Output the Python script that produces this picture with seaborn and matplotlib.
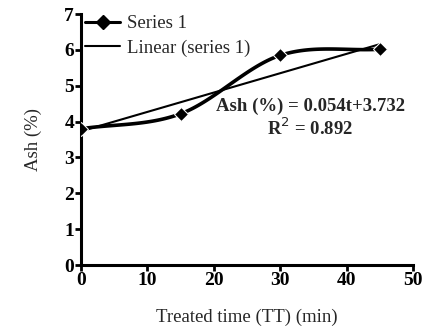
import numpy as np
import pandas as pd
import matplotlib
matplotlib.use("Agg")
import matplotlib.pyplot as plt
import seaborn as sns

# Data
time_min = [0, 15, 30, 45]
ash_pct = [3.8, 4.22, 5.85, 6.02]
fit_slope = 0.054
fit_intercept = 3.732
r_squared = 0.892
x_ticks = [0, 10, 20, 30, 40, 50]
y_ticks = [0, 1, 2, 3, 4, 5, 6, 7]

sns.set_style("ticks")
plt.rcParams['font.family'] = ['Liberation Serif', 'DejaVu Serif']

fig = plt.figure(figsize=(4.22, 3.28), dpi=100)
ax = fig.add_axes([0.192, 0.192, 0.787, 0.765])

# Smoothed curve (Catmull-Rom like Excel smoothing)
def smooth(xs, ys, n=40):
    P = np.column_stack([xs, ys]).astype(float)
    P = np.vstack([P[0] - (P[1] - P[0]), P, P[-1] + (P[-1] - P[-2])])
    out = []
    for i in range(1, len(P) - 2):
        p0, p1, p2, p3 = P[i - 1], P[i], P[i + 1], P[i + 2]
        c1 = p1 + (p2 - p0) / 6.0
        c2 = p2 - (p3 - p1) / 6.0
        t = np.linspace(0, 1, n)[:, None]
        seg = ((1 - t) ** 3) * p1 + 3 * ((1 - t) ** 2) * t * c1 + 3 * (1 - t) * t ** 2 * c2 + t ** 3 * p2
        out.append(seg)
    out = np.vstack(out)
    return out[:, 0], out[:, 1]

sx, sy = smooth(time_min, ash_pct)
ax.plot(sx, sy, color='black', lw=2.6, zorder=3, solid_capstyle='round')

df = pd.DataFrame({"t": time_min, "ash": ash_pct})
sns.lineplot(data=df, x="t", y="ash", ax=ax, color='black', marker='D', markersize=7,
             linestyle='none', zorder=4, legend=False)

# Linear trend
lt = np.array([time_min[0], time_min[-1]])
ax.plot(lt, fit_slope * lt + fit_intercept, color='black', lw=1.5, zorder=2)

# Legend
from matplotlib.lines import Line2D
handles = [Line2D([], [], color='black', lw=2.2, marker='D', markersize=7),
           Line2D([], [], color='black', lw=1.5)]
leg = ax.legend(handles, ['Series 1', 'Linear (series 1)'], loc='upper left',
                bbox_to_anchor=(-0.01, 1.025), frameon=False, fontsize=13.5,
                handlelength=1.85, handletextpad=0.4, labelspacing=0.38, borderaxespad=0)

ax.text(0.69, 0.632, 'Ash (%) = 0.054t+3.732', transform=ax.transAxes, ha='center', va='center',
        fontsize=13.5, fontweight='bold')
ax.text(0.69, 0.547, 'R$^{2}$ = 0.892', transform=ax.transAxes, ha='center', va='center',
        fontsize=13.5, fontweight='bold')

ax.set_xlim(0, 50)
ax.set_ylim(0, 7)
ax.set_xticks(x_ticks)
ax.set_yticks(y_ticks)
for lab in ax.get_xticklabels() + ax.get_yticklabels():
    lab.set_fontweight('bold')
    lab.set_fontsize(14)
ax.tick_params(axis='both', width=2, length=4, pad=1, colors='black')
ax.set_xlabel('Treated time (TT) (min)', fontsize=13.5, labelpad=14)
ax.set_ylabel('Ash (%)', fontsize=13.5, labelpad=16)
for s in ['left', 'bottom']:
    ax.spines[s].set_linewidth(2.2)
    ax.spines[s].set_color('black')
sns.despine(ax=ax)

fig.savefig('out.png', dpi=100)
